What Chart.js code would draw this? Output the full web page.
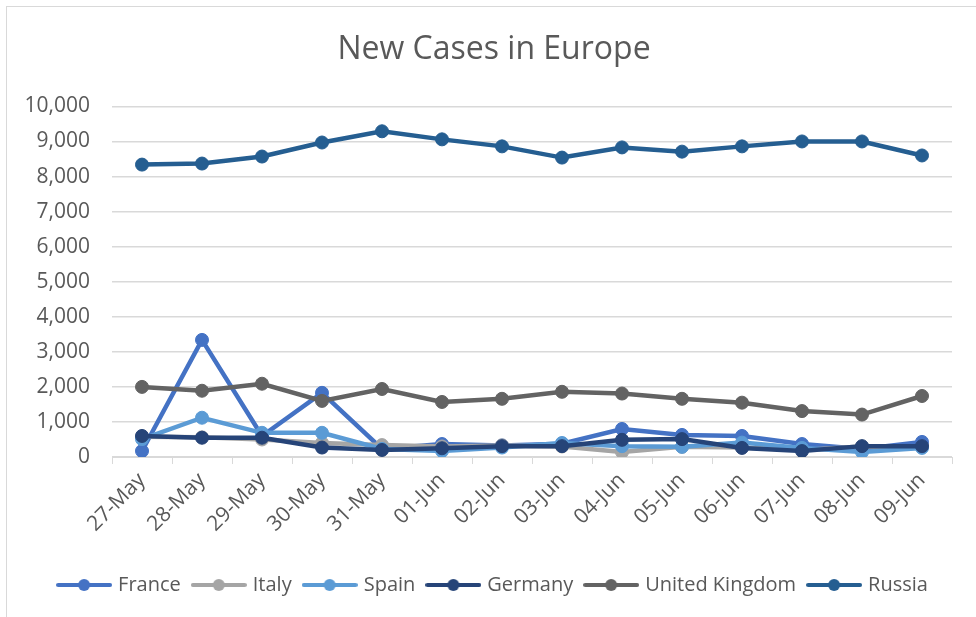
<!DOCTYPE html>
<html>
<head>
<meta charset="utf-8">
<script src="https://cdn.jsdelivr.net/npm/chart.js@4"></script>
<style>
  html, body { margin: 0; padding: 0; background: #fff; overflow: hidden; }
  #frame { position: absolute; left: 6px; top: 6px; width: 1100px; height: 800px; border: 1px solid #d9d9d9; }
  #wrap { position: absolute; left: 0; top: 0; width: 976px; height: 617px; }
</style>
</head>
<body>
<div id="frame"></div>
<div id="wrap"><canvas id="chart" width="976" height="617"></canvas></div>
<script>
// categories
const days = ['27-May', '28-May', '29-May', '30-May', '31-May', '01-Jun', '02-Jun',
    '03-Jun', '04-Jun', '05-Jun', '06-Jun', '07-Jun', '08-Jun', '09-Jun'];

// new cases per country
const france  = [170, 3340, 600, 1830, 230, 370, 330, 380, 800, 630, 600, 370, 230, 430];
const italy   = [580, 560, 500, 400, 340, 300, 330, 300, 140, 290, 270, 200, 300, 280];
const spain   = [510, 1120, 690, 690, 230, 170, 270, 400, 310, 290, 410, 260, 140, 260];
const germany = [600, 550, 550, 270, 200, 250, 310, 310, 490, 510, 260, 170, 310, 310];
const uk      = [2000, 1890, 2090, 1600, 1940, 1570, 1660, 1860, 1810, 1660, 1550, 1310, 1210, 1740];
const russia  = [8340, 8370, 8570, 8970, 9290, 9060, 8860, 8540, 8830, 8710, 8860, 9000, 9000, 8600];

const series = [
    { label: 'France', data: france, color: '#4472C4' },
    { label: 'Italy', data: italy, color: '#A5A5A5' },
    { label: 'Spain', data: spain, color: '#5B9BD5' },
    { label: 'Germany', data: germany, color: '#264478' },
    { label: 'United Kingdom', data: uk, color: '#636363' },
    { label: 'Russia', data: russia, color: '#255E91' }
];

const textColor = '#595959';
const gridColor = '#d9d9d9';
const font = "'Open Sans', sans-serif";

// legend marker: short line with a dot in the middle (like Excel)
function legendMarker(color) {
    const c = document.createElement('canvas');
    c.width = 56;
    c.height = 14;
    const g = c.getContext('2d');
    g.strokeStyle = color;
    g.lineWidth = 4;
    g.lineCap = 'round';
    g.beginPath();
    g.moveTo(2, 7);
    g.lineTo(54, 7);
    g.stroke();
    g.fillStyle = color;
    g.beginPath();
    g.arc(28, 7, 6, 0, Math.PI * 2);
    g.fill();
    return c;
}

// y labels are mirrored (so they are not clipped) and pushed back left of the axis
const measure = document.createElement('canvas').getContext('2d');
measure.font = "21px " + font;
const widestY = measure.measureText('10,000').width;

const ctx = document.getElementById('chart').getContext('2d');
const chart = new Chart(ctx, {
    type: 'line',
    data: {
        labels: days,
        datasets: series.map((s, i) => ({
            label: s.label,
            data: s.data,
            borderColor: s.color,
            backgroundColor: s.color,
            pointBackgroundColor: s.color,
            pointBorderColor: s.color,
            borderWidth: 4.5,
            pointRadius: 6.5,
            pointBorderWidth: 1,
            tension: 0,
            // later series on top, like Excel
            order: series.length - i
        }))
    },
    options: {
        responsive: false,
        animation: false,
        devicePixelRatio: 1,
        layout: { padding: { left: 36, right: 24, top: 0, bottom: 12 } },
        plugins: {
            title: {
                display: true,
                text: 'New Cases in Europe',
                color: textColor,
                font: { family: font, size: 32, weight: 'normal' },
                padding: { top: 31, bottom: 37 }
            },
            legend: {
                position: 'bottom',
                labels: {
                    color: textColor,
                    font: { family: font, size: 20 },
                    usePointStyle: true,
                    pointStyleWidth: 48,
                    padding: 14,
                    sort: (a, b) => a.datasetIndex - b.datasetIndex,
                    generateLabels: (ch) => {
                        const items = Chart.defaults.plugins.legend.labels.generateLabels(ch);
                        items.forEach(it => {
                            it.pointStyle = legendMarker(series[it.datasetIndex].color);
                        });
                        return items;
                    }
                }
            },
            tooltip: { enabled: false }
        },
        scales: {
            x: {
                offset: true,
                afterFit: (scale) => { scale.height = 104; },
                grid: {
                    offset: true,
                    drawOnChartArea: false,
                    color: gridColor,
                    tickLength: 7
                },
                border: { color: gridColor, width: 1 },
                ticks: {
                    color: textColor,
                    font: { family: font, size: 21 },
                    minRotation: 45,
                    maxRotation: 45,
                    autoSkip: false,
                    padding: 4
                }
            },
            y: {
                min: 0,
                max: 10000,
                afterFit: (scale) => { scale.width = 76; },
                grid: { color: gridColor, drawTicks: false, lineWidth: 1.5 },
                border: { display: false },
                ticks: {
                    stepSize: 1000,
                    color: textColor,
                    font: { family: font, size: 21 },
                    mirror: true,
                    crossAlign: 'far',
                    padding: -(22 + widestY),
                    callback: (v) => v.toLocaleString('en-US')
                }
            }
        }
    }
});
</script>
</body>
</html>
